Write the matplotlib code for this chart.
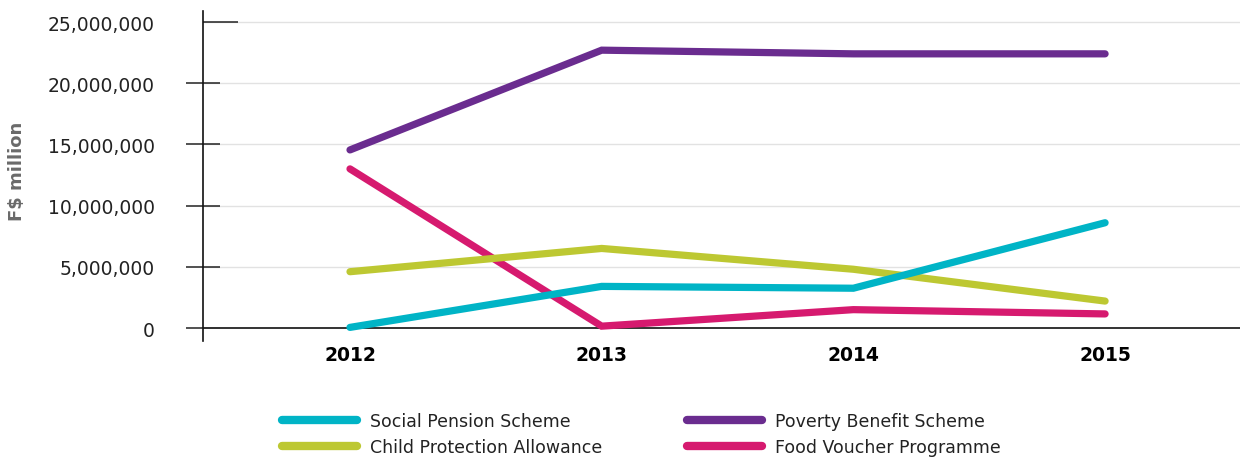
import matplotlib
matplotlib.use("Agg")
import matplotlib.pyplot as plt
from matplotlib.lines import Line2D
from matplotlib.ticker import FuncFormatter

# Annual expenditure by programme (F$)
years = ["2012", "2013", "2014", "2015"]
social_pension = [0.05e6, 3.4e6, 3.25e6, 8.6e6]
poverty_benefit = [14.55e6, 22.7e6, 22.4e6, 22.4e6]
child_protection = [4.6e6, 6.5e6, 4.8e6, 2.2e6]
food_voucher = [13.0e6, 0.15e6, 1.5e6, 1.15e6]

series_names = ["Social Pension Scheme", "Poverty Benefit Scheme",
                "Child Protection Allowance", "Food Voucher Programme"]
colors = {
    "Social Pension Scheme": "#00b4c6",
    "Poverty Benefit Scheme": "#6a2c8f",
    "Child Protection Allowance": "#bdc832",
    "Food Voucher Programme": "#d61a6f",
}
values = {
    "Social Pension Scheme": social_pension,
    "Poverty Benefit Scheme": poverty_benefit,
    "Child Protection Allowance": child_protection,
    "Food Voucher Programme": food_voucher,
}
y_ticks = [0, 5e6, 10e6, 15e6, 20e6]

W, H = 1247, 460
fig = plt.figure(figsize=(W / 100, H / 100), dpi=100)
ax = fig.add_axes([203 / W, (H - 342) / H, (1240 - 203) / W, 330 / H])

x = list(range(len(years)))
draw_order = ["Food Voucher Programme", "Child Protection Allowance",
              "Social Pension Scheme", "Poverty Benefit Scheme"]
for i, name in enumerate(draw_order):
    ax.plot(x, values[name], color=colors[name], lw=5.2,
            solid_capstyle="round", solid_joinstyle="miter", zorder=3 + i)

ax.set_xlim(-0.584, 3.536)
ax.set_ylim(-1.062e6, 25.9e6)

# horizontal guides
for v in y_ticks[1:] + [25e6]:
    ax.axhline(v, color="#e2e2e2", lw=1.0, zorder=1)
ax.axhline(0, color="#333333", lw=1.4, zorder=2)

for s in ["top", "right", "bottom"]:
    ax.spines[s].set_visible(False)
ax.spines["left"].set_color("#111111")
ax.spines["left"].set_linewidth(1.2)

fmt = FuncFormatter(lambda v, p: f"{int(round(v)):,}")
ax.set_yticks(y_ticks)
ax.yaxis.set_major_formatter(fmt)
ax.set_yticks([25e6], minor=True)
ax.set_yticklabels(["25,000,000"], minor=True)
ax.tick_params(axis="y", which="major", direction="inout", length=25,
               width=1.1, color="#222222", pad=22, labelsize=13.5,
               labelcolor="#222222")
ax.tick_params(axis="y", which="minor", direction="in", length=25,
               width=1.1, color="#222222", pad=35, labelsize=13.5,
               labelcolor="#222222")

ax.set_xticks(x)
ax.set_xticklabels(years, fontweight="bold", fontsize=13.5)
ax.tick_params(axis="x", length=0, pad=3)

fig.text(17 / W, 1 - 171 / H, "F$ million", rotation=90, ha="center",
         va="center", fontsize=13, fontweight="bold", color="#6a6a6a")

# legend in two columns
def make_legend(names, x_px):
    handles = [Line2D([], [], color=colors[n], lw=6, solid_capstyle="round")
               for n in names]
    fig.legend(handles, names, loc="center left",
               bbox_to_anchor=(x_px / W, 1 - 435 / H), frameon=False,
               fontsize=12.5, handlelength=4.3, handletextpad=0.75,
               labelspacing=0.5, borderpad=0, borderaxespad=0,
               labelcolor="#222222")

make_legend(["Social Pension Scheme", "Child Protection Allowance"], 282)
make_legend(["Poverty Benefit Scheme", "Food Voucher Programme"], 687)

fig.savefig("out.png", dpi=100)
